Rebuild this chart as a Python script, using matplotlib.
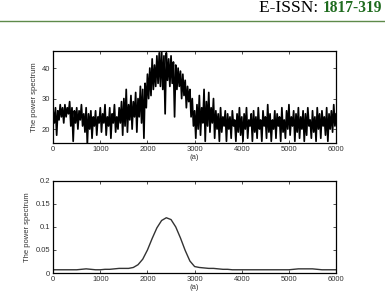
import matplotlib.pyplot as plt
import numpy as np

# noisy spectrum (a), sampled every 25 units
x_noisy = np.arange(0, 6001, 25)
y_noisy = [26, 22, 27, 18, 26, 23, 28, 24, 27, 22,
           28, 24, 27, 25, 29, 21, 27, 16, 26, 22,
           27, 20, 26, 23, 28, 21, 25, 19, 27, 15,
           25, 20, 26, 17, 24, 21, 26, 18, 24, 22,
           27, 19, 25, 22, 28, 18, 24, 21, 27, 17,
           25, 22, 28, 19, 24, 20, 27, 22, 29, 18,
           30, 21, 33, 19, 28, 23, 31, 20, 29, 24,
           32, 19, 30, 24, 34, 22, 33, 17, 35, 27,
           38, 30, 40, 31, 43, 33, 41, 34, 44, 35,
           45, 34, 46, 33, 44, 25, 45, 36, 43, 34,
           44, 35, 42, 24, 41, 33, 40, 34, 39, 30,
           38, 31, 36, 27, 34, 29, 33, 24, 30, 21,
           26, 17, 28, 20, 31, 18, 27, 22, 33, 16,
           29, 21, 32, 19, 27, 22, 30, 17, 26, 20,
           25, 16, 27, 19, 24, 21, 26, 16, 25, 20,
           24, 17, 26, 21, 23, 16, 25, 19, 27, 18,
           24, 16, 25, 20, 27, 17, 23, 21, 25, 16,
           26, 19, 24, 17, 27, 20, 23, 16, 26, 21,
           24, 17, 28, 19, 25, 16, 23, 20, 26, 17,
           25, 21, 24, 16, 27, 19, 23, 17, 26, 20,
           28, 18, 24, 21, 26, 16, 25, 19, 27, 17,
           24, 20, 26, 16, 25, 18, 27, 21, 23, 17,
           26, 19, 24, 16, 27, 20, 25, 17, 26, 21,
           24, 18, 27, 16, 25, 20, 26, 19, 28, 21,
           25]

# smoothed spectrum (a), sampled every 100 units
x_smooth = np.arange(0, 6001, 100)
y_smooth = [0.007, 0.007, 0.007, 0.007, 0.007, 0.007, 0.008, 0.009, 0.008, 0.007,
            0.007, 0.008, 0.008, 0.009, 0.010, 0.010, 0.010, 0.012, 0.018, 0.030,
            0.050, 0.075, 0.098, 0.114, 0.120, 0.116, 0.100, 0.076, 0.049, 0.026,
            0.014, 0.012, 0.011, 0.010, 0.010, 0.009, 0.008, 0.008, 0.007, 0.007,
            0.007, 0.007, 0.007, 0.007, 0.007, 0.007, 0.007, 0.007, 0.007, 0.007,
            0.007, 0.008, 0.009, 0.009, 0.009, 0.009, 0.008, 0.007, 0.007, 0.007,
            0.007]

xticks = [0, 1000, 2000, 3000, 4000, 5000, 6000]

plt.rcParams['font.family'] = ['Liberation Sans', 'DejaVu Sans']

fig = plt.figure(figsize=(3.85, 3.0), dpi=100)

# journal header
fig.text(0.673, 0.975, 'E-ISSN: ', fontsize=12.5, family='Liberation Serif',
         ha='left', va='center')
fig.text(0.838, 0.975, '1817-319', fontsize=11.2, family='Liberation Serif',
         color='#1e6b1e', weight='bold', ha='left', va='center')
fig.add_artist(plt.Line2D([0, 1], [0.931, 0.931], color='#5e8a4a', lw=1.0))


def style(ax):
    ax.tick_params(direction='in', top=True, right=True, length=2.5,
                   width=0.6, labelsize=5.5, pad=2, colors='#333333')
    for s in ax.spines.values():
        s.set_linewidth(0.9)
    ax.set_xlim(0, 6000)
    ax.set_xticks(xticks)
    ax.set_xlabel('(a)', fontsize=5.5, labelpad=1, color='#333333')
    ax.set_ylabel('The power spectrum', fontsize=5.5, labelpad=3, color='#333333')


ax1 = fig.add_axes([0.138, 0.523, 0.735, 0.307])
ax1.plot(x_noisy, y_noisy, color='black', lw=1.25)
ax1.set_ylim(15.4, 45.6)
ax1.set_yticks([20, 30, 40])
style(ax1)

ax2 = fig.add_axes([0.138, 0.09, 0.735, 0.307])
ax2.plot(x_smooth, y_smooth, color='#333333', lw=1.0)
ax2.set_ylim(0, 0.2)
ax2.set_yticks([0, 0.05, 0.1, 0.15, 0.2])
ax2.set_yticklabels(['0', '0.05', '0.1', '0.15', '0.2'])
style(ax2)

fig.savefig('out.png', dpi=100)
